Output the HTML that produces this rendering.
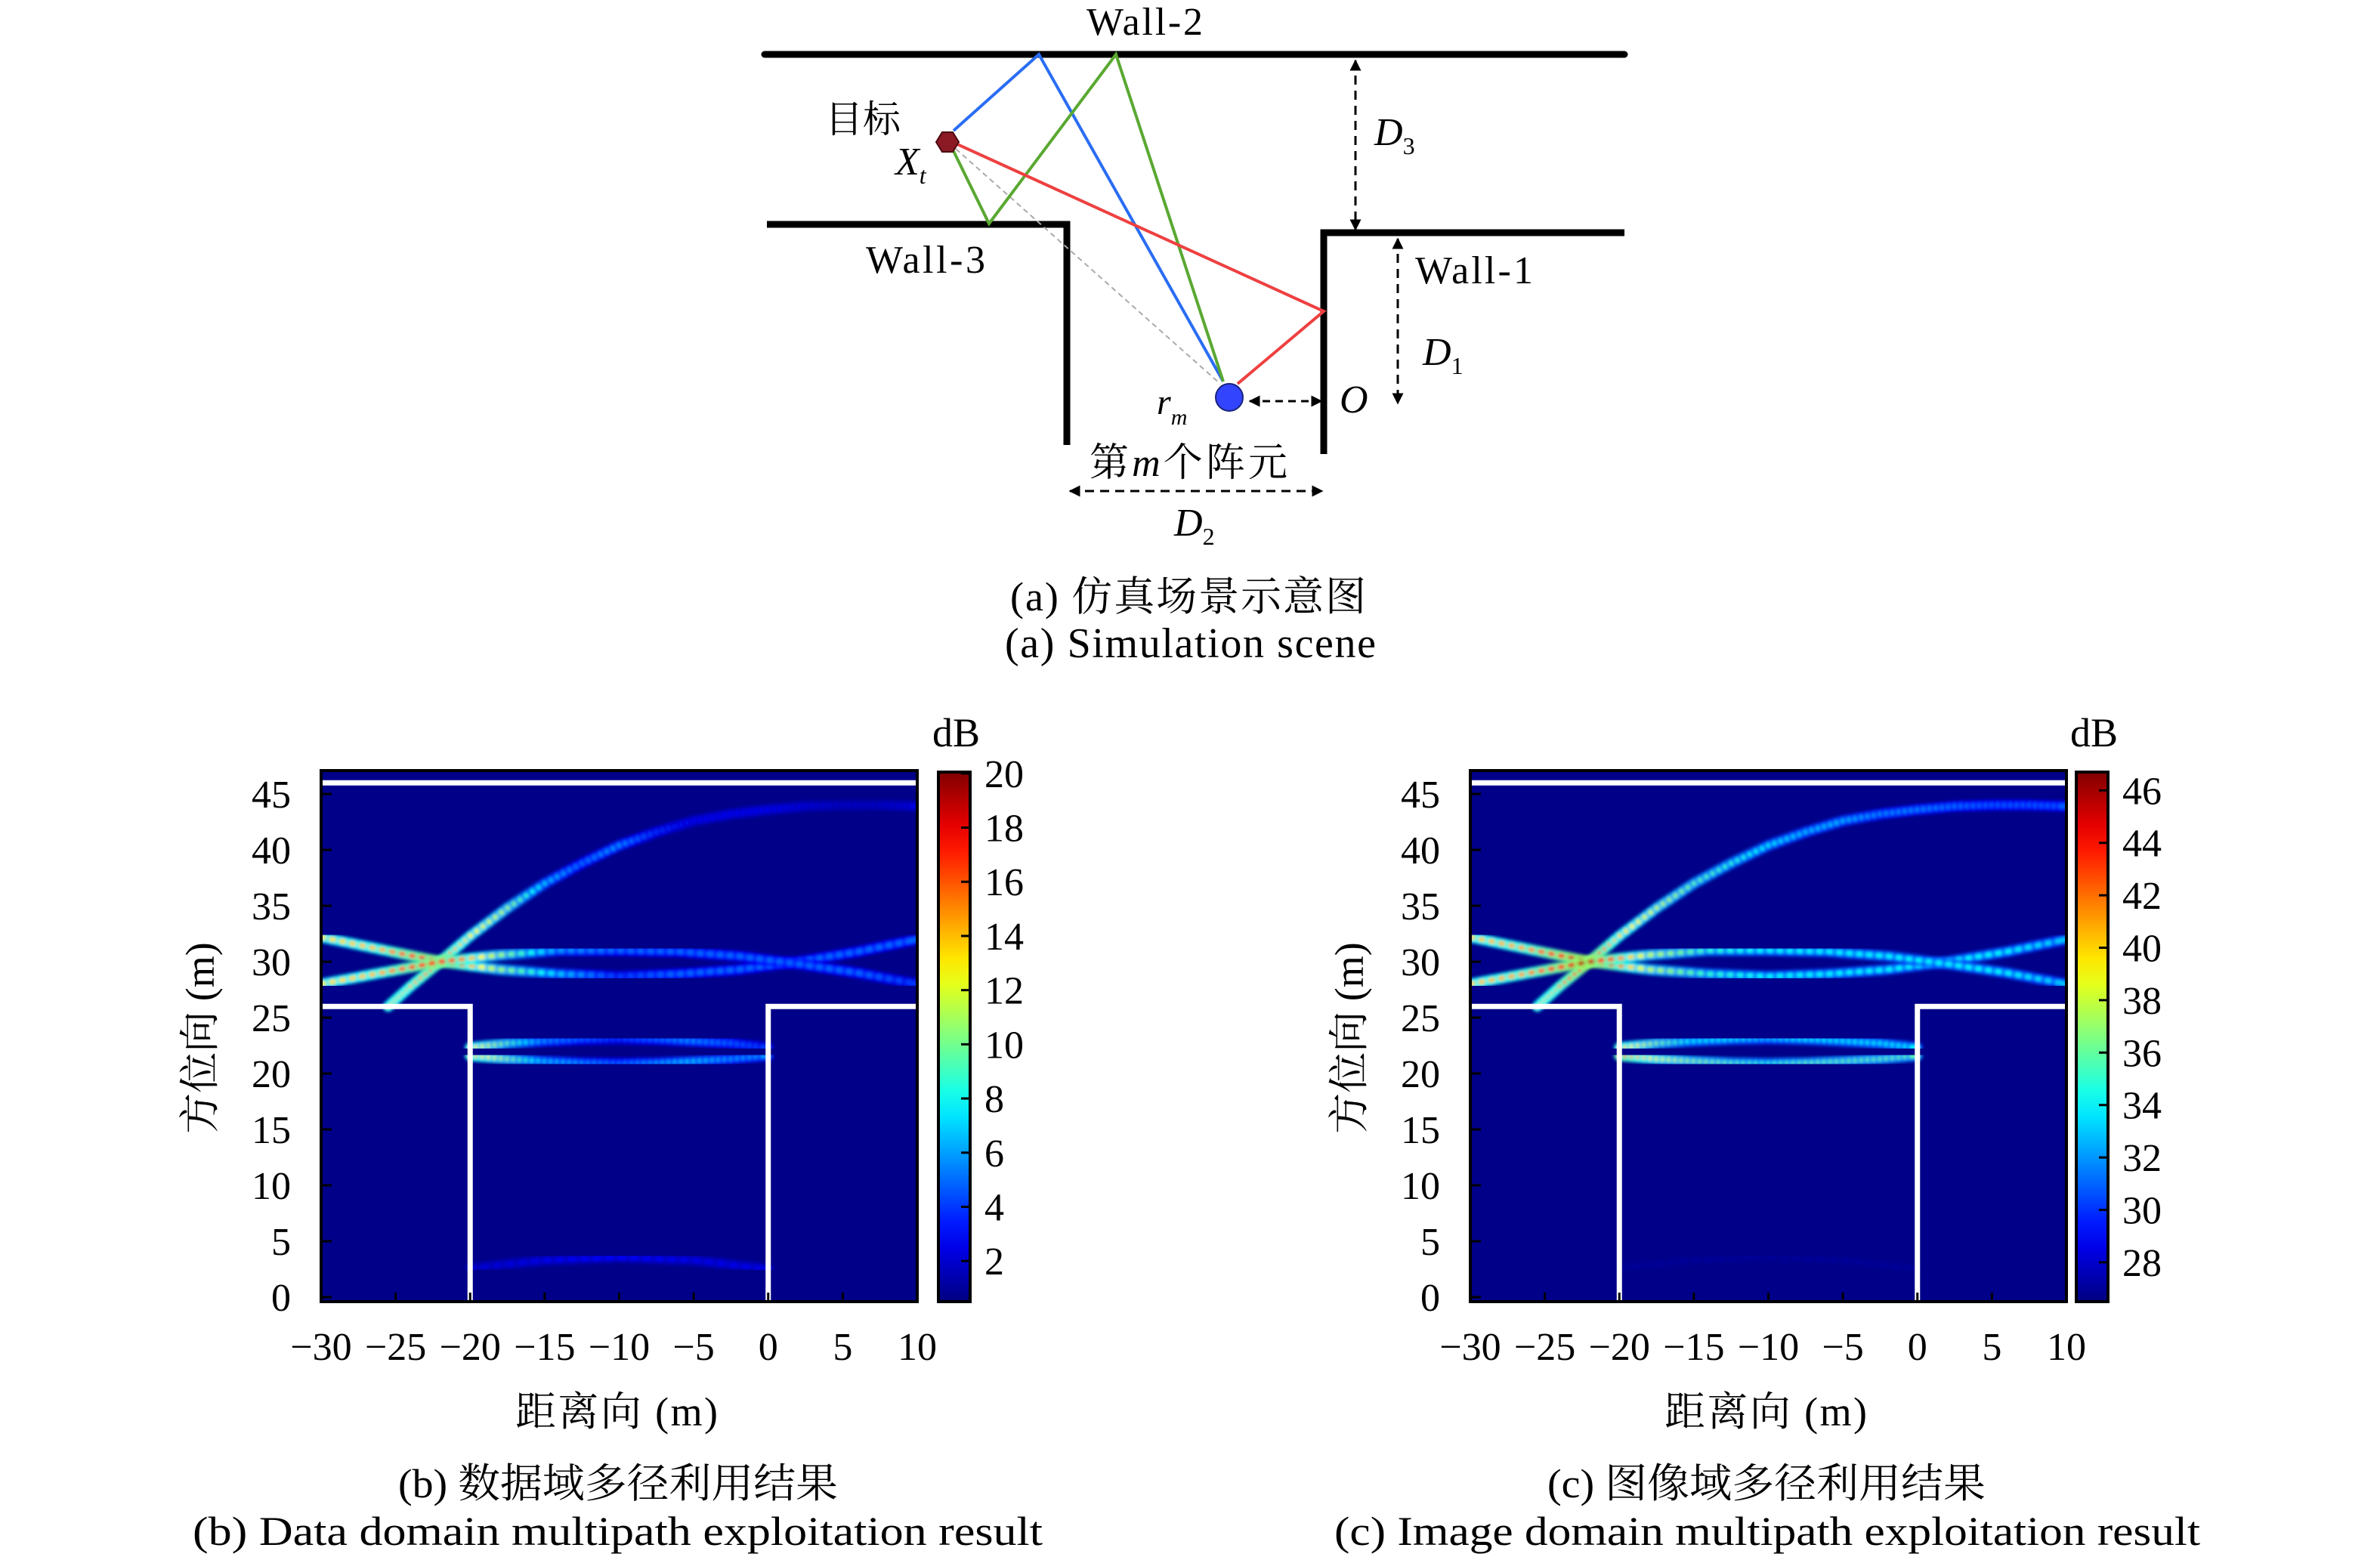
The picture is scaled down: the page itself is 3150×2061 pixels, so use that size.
<!DOCTYPE html>
<html><head><meta charset="utf-8"><style>
html,body{margin:0;padding:0;background:#fff;}
svg{display:block;}
text{font-family:"Liberation Serif","Noto Serif CJK SC",serif;fill:#000;}
.cjk{font-family:"Liberation Serif","Noto Serif CJK SC",serif;}
</style></head><body>
<svg id="root" width="3150" height="2061" viewBox="0 0 3150 2061" xmlns="http://www.w3.org/2000/svg">
<defs>
<marker id="ah" viewBox="0 0 10 10" refX="9" refY="5" markerWidth="5" markerHeight="5" orient="auto-start-reverse"><path d="M0,0 L10,5 L0,10 z" fill="#000"/></marker>
<filter id="glow" x="-5%" y="-5%" width="110%" height="110%"><feGaussianBlur stdDeviation="2.2"/></filter>
</defs>

<g>
  <line x1="1012" y1="72" x2="2150" y2="72" stroke="#000" stroke-width="9" stroke-linecap="round"/>
  <polyline points="1015,297 1412,297 1412,589" fill="none" stroke="#000" stroke-width="9"/>
  <polyline points="1752,601 1752,308 2150,308" fill="none" stroke="#000" stroke-width="9"/>
  <polyline points="1265,197 1615,508" fill="none" stroke="#aaa" stroke-width="2" stroke-dasharray="7,5"/>
  <polyline points="1262,173 1375,72 1619,505" fill="none" stroke="#2a6df4" stroke-width="4"/>
  <polyline points="1262,200 1309,296 1477,72 1619,505" fill="none" stroke="#5aa832" stroke-width="4"/>
  <polyline points="1265,190 1752,412 1638,508" fill="none" stroke="#ee4040" stroke-width="4"/>
  <polygon points="1269,188 1261,201 1247,201 1239,188 1247,175 1261,175" fill="#8b1a24" stroke="#4a0a10" stroke-width="2"/>
  <circle cx="1627" cy="526" r="18" fill="#3344ff" stroke="#1a237e" stroke-width="2"/>
  <line x1="1794" y1="80" x2="1794" y2="304" stroke="#000" stroke-width="3" stroke-dasharray="12,8" marker-start="url(#ah)" marker-end="url(#ah)"/>
  <line x1="1850" y1="316" x2="1850" y2="534" stroke="#000" stroke-width="3" stroke-dasharray="12,8" marker-start="url(#ah)" marker-end="url(#ah)"/>
  <line x1="1654" y1="531" x2="1749" y2="531" stroke="#000" stroke-width="3" stroke-dasharray="10,7" marker-start="url(#ah)" marker-end="url(#ah)"/>
  <line x1="1416" y1="650" x2="1750" y2="650" stroke="#000" stroke-width="3" stroke-dasharray="12,8" marker-start="url(#ah)" marker-end="url(#ah)"/>
  <text x="1438" y="46" font-size="52" textLength="154">Wall-2</text>
  <text x="1146" y="361" font-size="52" textLength="158">Wall-3</text>
  <text x="1873" y="375" font-size="52" textLength="156">Wall-1</text>
  <text x="1092" y="175" font-size="50" class="cjk">目标</text>
  <text x="1185" y="231" font-size="52" font-style="italic">X<tspan font-size="32" dy="12">t</tspan></text>
  <text x="1819" y="192" font-size="52" font-style="italic">D<tspan font-size="32" dy="12" font-style="normal">3</tspan></text>
  <text x="1883" y="483" font-size="52" font-style="italic">D<tspan font-size="32" dy="12" font-style="normal">1</tspan></text>
  <text x="1773" y="546" font-size="52" font-style="italic">O</text>
  <text x="1531" y="548" font-size="48" font-style="italic">r<tspan font-size="30" dy="14">m</tspan></text>
  <text x="1442" y="630" font-size="52" class="cjk" textLength="262">第<tspan font-style="italic">m</tspan>个阵元</text>
  <text x="1554" y="709" font-size="52" font-style="italic">D<tspan font-size="32" dy="12" font-style="normal">2</tspan></text>
  <text x="1337" y="808" font-size="54" class="cjk" textLength="471">(a) 仿真场景示意图</text>
  <text x="1330" y="870" font-size="56" textLength="491">(a) Simulation scene</text>
</g>

<g id="panelB"></g>
<g id="panelC"></g>
</svg>

<script>
const xTicks=[-30,-25,-20,-15,-10,-5,0,5,10];
const yTicks=[0,5,10,15,20,25,30,35,40,45];
const cbTicksB=[2,4,6,8,10,12,14,16,18,20];
const cbTicksC=[28,30,32,34,36,38,40,42,44,46];
const arcX=[-25.5,-24,-22,-20,-17.5,-15,-12.5,-10,-7.5,-5,-2.5,0,2.5,5,7.5,10];
const arcY=[26,27.8,30,32.3,34.8,37,38.8,40.4,41.6,42.6,43.2,43.6,43.9,44,44,43.9];
const arcVb=[14,14,16,13,11,7,5,6,4,3,3,3,2.5,2,2,2.5];
const arcVc=[40,41,45,40,38,36,35,34,33,33,32,32,31.5,31,31,31];
const crsX=[-30,-26,-22,-18,-14,-10,-6,-2,2,6,10];
const crsDownY=[32.2,31.1,30,29.3,28.9,28.7,28.9,29.3,30,30.9,32];
const crsDownVb=[13,14,18,11,7,4,5,5,5,5,5];
const crsDownVc=[40,41,46,38,35,34,34,34,34,34,33];
const crsUpY=[28,29,30,30.6,31,31,30.9,30.5,29.8,29,28];
const crsUpVb=[13,14,18,11,6,5,5,5,5,5,4];
const crsUpVc=[40,41,46,38,35,34,34,34,34,34,33];
const lowX=[-20,-17.5,-15,-12.5,-10,-7.5,-5,-2.5,0];
const lowUpY=[22.3,22.7,22.9,23.05,23.1,23.05,22.9,22.7,22.3];
const lowUpVb=[14,10,6,5,4,5,6,5,4];
const lowUpVc=[41,37,34,34,33,34,34,34,34];
const lowDnY=[21.6,21.3,21.1,20.95,20.9,20.95,21.1,21.3,21.6];
const lowDnVb=[15,11,7,6,5,6,7,6,6];
const lowDnVc=[43,39,37,36,35,36,36,36,36];
const fntX=[-20,-15,-10,-5,0];
const fntY=[2.6,3.3,3.6,3.3,2.5];
const fntVb=[2,2.5,3,2.5,2.5];
const fntVc=[27,27,27,27,27];

function jet(t){t=Math.max(0,Math.min(1,t));
  const r=Math.max(0,Math.min(1,1.5-Math.abs(4*t-3)));
  const g=Math.max(0,Math.min(1,1.5-Math.abs(4*t-2)));
  const b=Math.max(0,Math.min(1,1.5-Math.abs(4*t-1)));
  return 'rgb('+Math.round(r*255)+','+Math.round(g*255)+','+Math.round(b*255)+')';}

const NS='http://www.w3.org/2000/svg';
function mk(tag,attrs,parent){const e=document.createElementNS(NS,tag);for(const k in attrs)e.setAttribute(k,attrs[k]);parent.appendChild(e);return e;}

function buildPanel(g,offX,cbMin,cbMax,cbTicks,curves,capCn,capEn,capCnX,capCnW,capEnX,capEnW){
  const L=425+offX,R=1214+offX,T=1020,B=1723;
  const y0=1717,ypu=14.8;
  const sx=v=>L+(v+30)*(R-L)/40;
  const sy=v=>y0-v*ypu;
  const clipId='clip'+offX;
  const cp=mk('clipPath',{id:clipId},g);mk('rect',{x:L,y:T,width:R-L,height:B-T},cp);
  const bg=mk('rect',{x:L,y:T,width:R-L,height:B-T,fill:'#000088'},g);
  
  
  const heat=mk('g',{'clip-path':'url(#'+clipId+')'},g);
  
  
  const norm=v=>(v-cbMin)/(cbMax-cbMin);
  curves.forEach((c,ci)=>{
    const cg=mk('g',{},heat);
    
    
    const glow=mk('g',{filter:'url(#glow)'},cg);
    for(let i=0;i<c.x.length-1;i++){
      const n=6;
      for(let k=0;k<n;k++){
        const a=k/n,b=(k+1)/n;
        const xa=c.x[i]+(c.x[i+1]-c.x[i])*a, ya=c.y[i]+(c.y[i+1]-c.y[i])*a;
        const xb=c.x[i]+(c.x[i+1]-c.x[i])*b, yb=c.y[i]+(c.y[i+1]-c.y[i])*b;
        const v=c.v[i]+(c.v[i+1]-c.v[i])*(a+b)/2;
        const t=norm(v);
        mk('line',{x1:sx(xa),y1:sy(ya),x2:sx(xb),y2:sy(yb),stroke:jet(t*0.55),'stroke-width':14,'stroke-linecap':'round'},glow);
        mk('line',{x1:sx(xa),y1:sy(ya),x2:sx(xb),y2:sy(yb),stroke:jet(t),'stroke-width':6,'stroke-linecap':'round'},glow);
      }
    }
  });
  const walls=mk('g',{fill:'none',stroke:'#ffffff','stroke-width':7},heat);
  
  
  mk('line',{x1:L,y1:sy(46),x2:R,y2:sy(46)},walls);
  mk('polyline',{points:L+','+sy(26)+' '+sx(-20)+','+sy(26)+' '+sx(-20)+','+B},walls);
  mk('polyline',{points:sx(0)+','+B+' '+sx(0)+','+sy(26)+' '+R+','+sy(26)},walls);
  const fr=mk('rect',{x:L,y:T,width:R-L,height:B-T,fill:'none',stroke:'#000','stroke-width':4},g);
  
  
  xTicks.forEach(v=>{
    mk('line',{x1:sx(v),y1:B,x2:sx(v),y2:B-12,stroke:'#000','stroke-width':3},g);
    const t=mk('text',{x:sx(v),y:1800,'font-size':52,'text-anchor':'middle'},g);
    t.textContent=(v<0?'\u2212':'')+Math.abs(v);
    
    
  });
  yTicks.forEach(v=>{
    mk('line',{x1:L,y1:sy(v),x2:L+14,y2:sy(v),stroke:'#000','stroke-width':3},g);
    const t=mk('text',{x:385+offX,y:sy(v)+18,'font-size':52,'text-anchor':'end'},g);
    t.textContent=v;
    
    
  });
  const xt=mk('text',{x:682+offX,y:1887,'font-size':54,textLength:268},g);
  xt.textContent='距离向 (m)';
  
  
  const yt=mk('text',{x:0,y:0,'font-size':54,'text-anchor':'middle',transform:'translate('+(283+offX)+',1374) rotate(-90)'},g);
  yt.textContent='方位向 (m)';
  
  
  const CL=1242+offX+(offX?-15:0),CW=42,CT=1022,CB=1723;
  const gid='cbg'+offX;
  const lg=mk('linearGradient',{id:gid,x1:0,y1:1,x2:0,y2:0},g);
  for(let i=0;i<=20;i++){mk('stop',{offset:(i/20),'stop-color':jet(i/20)},lg);}
  const cb=mk('rect',{x:CL,y:CT,width:CW,height:CB-CT,fill:'url(#'+gid+')',stroke:'#000','stroke-width':4},g);
  
  
  const cy=v=>CB-(v-cbMin)/(cbMax-cbMin)*(CB-CT);
  cbTicks.forEach(v=>{
    mk('line',{x1:CL+CW-12,y1:cy(v),x2:CL+CW,y2:cy(v),stroke:'#000','stroke-width':3},g);
    const t=mk('text',{x:CL+CW+19,y:cy(v)+18,'font-size':52},g);
    t.textContent=v;
    
    
  });
  const db=mk('text',{x:CL-8,y:988,'font-size':54},g);
  db.textContent='dB';
  
  
  const c1=mk('text',{x:capCnX,y:1982,'font-size':54,textLength:capCnW,lengthAdjust:'spacingAndGlyphs'},g);
  c1.textContent=capCn;
  
  
  const c2=mk('text',{x:capEnX,y:2045,'font-size':54,textLength:capEnW,lengthAdjust:'spacingAndGlyphs'},g);
  c2.textContent=capEn;
  
  
}

buildPanel(document.getElementById('panelB'),0,0.5,20.05,cbTicksB,[
  {x:arcX,y:arcY,v:arcVb},{x:crsX,y:crsDownY,v:crsDownVb},{x:crsX,y:crsUpY,v:crsUpVb},
  {x:lowX,y:lowUpY,v:lowUpVb},{x:lowX,y:lowDnY,v:lowDnVb},{x:fntX,y:fntY,v:fntVb}],
  '(b) 数据域多径利用结果','(b) Data domain multipath exploitation result',527,582,255,1125);
buildPanel(document.getElementById('panelC'),1521,26.5,46.7,cbTicksC,[
  {x:arcX,y:arcY,v:arcVc},{x:crsX,y:crsDownY,v:crsDownVc},{x:crsX,y:crsUpY,v:crsUpVc},
  {x:lowX,y:lowUpY,v:lowUpVc},{x:lowX,y:lowDnY,v:lowDnVc},{x:fntX,y:fntY,v:fntVc}],
  '(c) 图像域多径利用结果','(c) Image domain multipath exploitation result',2048,580,1766,1146);
</script>
</body></html>
